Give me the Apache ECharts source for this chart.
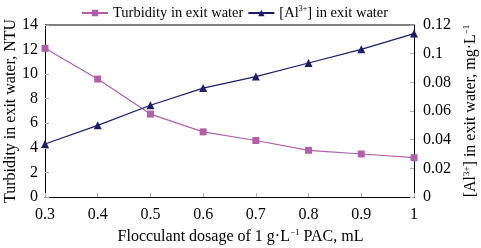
<!DOCTYPE html>
<html><head><meta charset="utf-8">
<script src="https://cdn.jsdelivr.net/npm/echarts@6/dist/echarts.min.js"></script>
<style>html,body{margin:0;padding:0;background:#fff}#c{width:481px;height:248px}</style>
</head><body><div id="c"></div>
<script>
const categories = ['0.3','0.4','0.5','0.6','0.7','0.8','0.9','1'];
const turbidity = [12.1, 9.6, 6.75, 5.3, 4.6, 3.8, 3.5, 3.2];
const aluminium = [0.037, 0.050, 0.064, 0.076, 0.084, 0.0935, 0.103, 0.114];
const leftTicks = [0,2,4,6,8,10,12,14];
const rightTicks = [0,0.02,0.04,0.06,0.08,0.1,0.12];

const FONT = '"Liberation Serif", "DejaVu Serif", serif';
const purple = '#b060a8';
const navy = '#1c1c6a';
const tickGray = '#b0b0b0';
const rich = {
  n: {fontFamily: FONT, fontSize: 16, color: '#000'},
  s: {fontFamily: FONT, fontSize: 9, color: '#000', verticalAlign: 'top', padding: [0,0,9,0]}
};
const chart = echarts.init(document.getElementById('c'));
chart.setOption({
  animation: false,
  textStyle: {fontFamily: FONT},
  grid: {left: 45, right: 67, top: 25, bottom: 51, containLabel: false, outerBoundsMode: 'none'},
  legend: {
    top: 5, left: 81, itemGap: 4, itemWidth: 26, itemHeight: 8, padding: 0,
    textStyle: {fontFamily: FONT, fontSize: 14.5, color: '#000', rich: {
      n: {fontFamily: FONT, fontSize: 14.5, color: '#000'},
      s: {fontFamily: FONT, fontSize: 8, color: '#000', verticalAlign: 'top', padding:[0,0,8,0]}
    }},
    formatter: function(n){ return n === 'al' ? '{n|[Al}{s|3+}{n|] in exit water}' : '{n|Turbidity in exit water}'; },
    data: ['turb', 'al']
  },
  xAxis: {
    type: 'category', data: categories, boundaryGap: false,
    axisLine: {lineStyle: {color: '#000', width: 1}},
    axisTick: {inside: true, length: 4, lineStyle: {color: tickGray}},
    axisLabel: {fontFamily: FONT, fontSize: 16, color: '#000', margin: 10},
    name: '{n|Flocculant dosage of 1 g·L}{s|−1}{n| PAC, mL}',
    nameLocation: 'middle', nameGap: 31,
    nameTextStyle: {rich: rich, padding: [0,0,0,22]}
  },
  yAxis: [{
    type: 'value', min: 0, max: 14, interval: 2,
    axisLine: {show: true, lineStyle: {color: '#000'}},
    axisTick: {show: true, inside: true, length: 4, lineStyle: {color: tickGray}},
    splitLine: {show: false},
    axisLabel: {fontFamily: FONT, fontSize: 16, color: '#000', margin: 7},
    name: 'Turbidity in exit water, NTU', nameLocation: 'middle', nameGap: 34, nameRotate: 90,
    nameMoveOverlap: false,
    nameTextStyle: {fontFamily: FONT, fontSize: 16, color: '#000', verticalAlign: 'middle', align: 'center'}
  }, {
    type: 'value', min: 0, max: 0.12, interval: 0.02, position: 'right',
    axisLine: {show: true, lineStyle: {color: '#000'}},
    axisTick: {show: true, inside: true, length: 4, lineStyle: {color: tickGray}},
    splitLine: {show: false},
    axisLabel: {fontFamily: FONT, fontSize: 16, color: '#000', margin: 9,
      formatter: v => String(Math.round(v*100)/100)},
    name: '{n|[Al}{s|3+}{n|] in exit water, mg·L}{s|−1}', nameLocation: 'middle', nameGap: 56, nameRotate: 90,
    nameTextStyle: {rich: rich, verticalAlign: 'middle', align: 'center'}
  }],
  graphic: [{type:'line', shape:{x1:45,y1:25,x2:414,y2:25}, style:{stroke:'#000', lineWidth:1}}],
  series: [{
    name: 'turb', type: 'line', data: turbidity, yAxisIndex: 0,
    symbol: 'rect', symbolSize: 7,
    lineStyle: {color: purple, width: 1.2}, itemStyle: {color: purple}
  }, {
    name: 'al', type: 'line', data: aluminium, yAxisIndex: 1,
    symbol: 'triangle', symbolSize: 8,
    lineStyle: {color: navy, width: 1.2}, itemStyle: {color: navy}
  }]
});
</script></body></html>
